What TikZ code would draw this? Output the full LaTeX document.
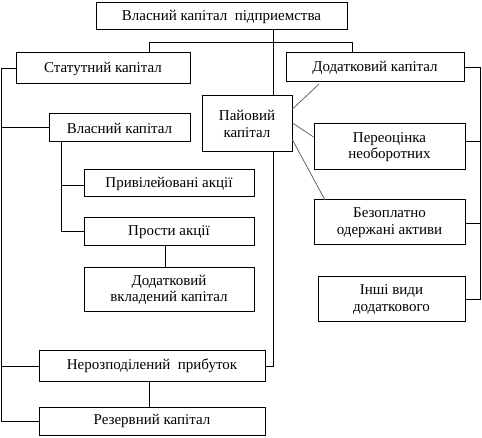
\documentclass[tikz,border=0pt]{standalone}
\usepackage{fontspec}
\setmainfont{Liberation Serif}
\begin{document}
\begin{tikzpicture}[x=1pt,y=-1pt,
  box/.style={draw, line width=1pt, inner sep=0pt, align=center, font=\fontsize{15}{16.5}\selectfont},
  ln/.style={line width=1pt},
  dg/.style={line width=0.8pt, draw=black!60}]
\useasboundingbox (0,0) rectangle (482,438);
\node[box, minimum width=251, minimum height=27] (top) at (221.5,16.5) {Власний капітал\ \ підприемства};
\node[box, minimum width=174, minimum height=31] (stat) at (103,68.5) {Статутний капітал};
\node[box, minimum width=178, minimum height=29] (dod) at (375,67.5) {Додатковий капітал};
\node[box, minimum width=90, minimum height=56] (pay) at (247,124) {Пайовий\\капітал};
\node[box, minimum width=141, minimum height=28] (vlas) at (119.5,128) {Власний капітал};
\node[box, minimum width=151, minimum height=46] (pere) at (389.5,147) {Переоцінка\\необоротних};
\node[box, minimum width=170, minimum height=27] (pryv) at (169,183.5) {Привілейовані акції};
\node[box, minimum width=151, minimum height=45] (bez) at (389.5,222.5) {Безоплатно\\одержані активи};
\node[box, minimum width=170, minimum height=28] (prost) at (169,232) {Прости акції};
\node[box, minimum width=170, minimum height=44] (dvk) at (169,290) {Додатковий\\вкладений капітал};
\node[box, minimum width=147, minimum height=45] (inshi) at (391.5,299.5) {Інші види\\додаткового};
\node[box, minimum width=226, minimum height=30] (nerozp) at (152,366) {Нерозподілений\ \ прибуток};
\node[box, minimum width=226, minimum height=28] (rez) at (152,421) {Резервний капітал};
% coordinates
\coordinate (trunk) at (273,0);
\coordinate (bl) at (149,43);
\coordinate (br) at (352,43);
\coordinate (lb) at (1,0);
\coordinate (rb) at (480,0);
\coordinate (vx) at (61,0);
\coordinate (px) at (165,0);
\coordinate (nx) at (149,0);
\coordinate (d1) at (319,84);
\coordinate (d3) at (325,200);
% connectors
\draw[ln] (top.south -| trunk) -- (pay.north -| trunk);
\draw[ln] (pay.south -| trunk) |- (nerozp.east);
\draw[ln] (stat.north -| bl) -- (bl) -- (br) -- (dod.north -| br);
\draw[ln] (stat.west) -- (stat.west -| lb) -- (rez.west -| lb) -- (rez.west);
\draw[ln] (vlas.west) -- (vlas.west -| lb);
\draw[ln] (nerozp.west) -- (nerozp.west -| lb);
\draw[ln] (dod.east) -- (dod.east -| rb) -- (inshi.east -| rb) -- (inshi.east);
\draw[ln] ([yshift=5pt]pere.east) -- ([yshift=5pt]pere.east -| rb);
\draw[ln] ([yshift=-1.5pt]bez.east) -- ([yshift=-1.5pt]bez.east -| rb);
\draw[ln] (vlas.south -| vx) |- (prost.west);
\draw[ln] ([yshift=-2.5pt]pryv.west) -- ([yshift=-2.5pt]pryv.west -| vx);
\draw[ln] (prost.south -| px) -- (dvk.north -| px);
\draw[ln] (nerozp.south -| nx) -- (rez.north -| nx);
\draw[dg] ([yshift=15pt]pay.east) -- (d1);
\draw[dg] ([yshift=1pt]pay.east) -- ([yshift=10pt]pere.west);
\draw[dg] ([yshift=-16pt]pay.east) -- (d3);
\end{tikzpicture}
\end{document}
